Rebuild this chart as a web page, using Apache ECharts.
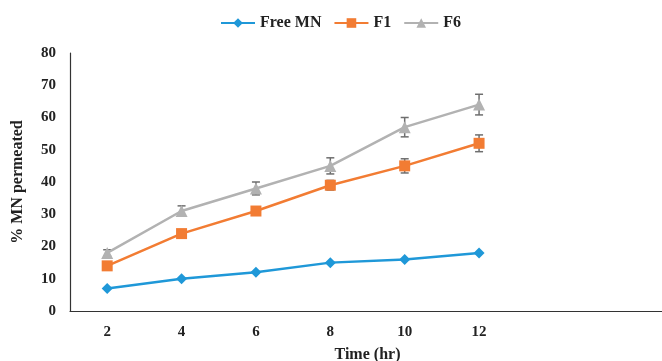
<!DOCTYPE html>
<html>
<head>
<meta charset="utf-8">
<script src="https://cdn.jsdelivr.net/npm/echarts@6/dist/echarts.min.js"></script>
<style>
  html, body { margin: 0; padding: 0; background: #fff; }
  #chart { width: 662px; height: 361px; }
</style>
</head>
<body>
<div id="chart"></div>
<script>
// time points (two empty slots keep the axis running to the right edge)
const times = ["2", "4", "6", "8", "10", "12", "", ""];
const freeMN = [7, 10, 12, 15, 16, 18];
const f1 = [14, 24, 31, 39, 45, 52];
const f6 = [18, 31, 38, 45, 57, 64];
// standard deviations
const f1Err = [0.6, 0.8, 1, 1.5, 2.2, 2.6];
const f6Err = [1, 1.6, 2, 2.5, 3, 3.2];

const font = "Liberation Serif";
const chart = echarts.init(document.getElementById("chart"));

// error bar series drawn through the axis coordinate system
function errorBars(values, errs) {
  return {
    type: "custom",
    silent: true,
    z: 1,
    data: values.map((v, i) => [i, v - errs[i], v + errs[i]]),
    renderItem(params, api) {
      const lo = api.coord([api.value(0), api.value(1)]);
      const hi = api.coord([api.value(0), api.value(2)]);
      const w = 4;
      const style = { stroke: "#6e6e6e", lineWidth: 1.5 };
      return {
        type: "group",
        children: [
          { type: "line", shape: { x1: hi[0], y1: hi[1], x2: lo[0], y2: lo[1] }, style },
          { type: "line", shape: { x1: hi[0] - w, y1: hi[1], x2: hi[0] + w, y2: hi[1] }, style },
          { type: "line", shape: { x1: lo[0] - w, y1: lo[1], x2: lo[0] + w, y2: lo[1] }, style }
        ]
      };
    }
  };
}

chart.setOption({
  animation: false,
  textStyle: { fontFamily: font },
  legend: {
    top: 10,
    left: 215,
    itemWidth: 34,
    itemHeight: 12,
    itemGap: 12,
    textStyle: { fontFamily: font, fontWeight: "bold", fontSize: 16, color: "#222" },
    data: ["Free MN", "F1", "F6"]
  },
  grid: { left: 70, top: 53, width: 595, height: 258, outerBoundsMode: "none", containLabel: false },
  xAxis: {
    type: "category",
    data: times,
    name: "Time (hr)",
    nameLocation: "middle",
    nameGap: 36,
    nameTextStyle: { fontFamily: font, fontWeight: "bold", fontSize: 16, color: "#222" },
    axisLine: { lineStyle: { color: "#333", width: 1.2 } },
    axisTick: { show: false },
    axisLabel: { fontFamily: font, fontWeight: "bold", fontSize: 15, color: "#222", margin: 14 }
  },
  yAxis: {
    type: "value",
    min: 0,
    max: 80,
    interval: 10,
    name: "% MN permeated",
    nameLocation: "middle",
    nameGap: 44,
    nameTextStyle: { fontFamily: font, fontWeight: "bold", fontSize: 16, color: "#222" },
    axisLine: { show: true, lineStyle: { color: "#333", width: 1.2 } },
    axisTick: { show: false },
    splitLine: { show: false },
    axisLabel: { fontFamily: font, fontWeight: "bold", fontSize: 15, color: "#222", margin: 14 }
  },
  series: [
    {
      name: "Free MN",
      type: "line",
      data: freeMN,
      symbol: "diamond",
      symbolSize: 11,
      z: 3,
      itemStyle: { color: "#1f98d8" },
      lineStyle: { color: "#1f98d8", width: 2.5 }
    },
    {
      name: "F1",
      type: "line",
      data: f1,
      symbol: "rect",
      symbolSize: 11,
      z: 3,
      itemStyle: { color: "#f27c33" },
      lineStyle: { color: "#f27c33", width: 2.5 }
    },
    {
      name: "F6",
      type: "line",
      data: f6,
      symbol: "triangle",
      symbolSize: 12,
      z: 3,
      itemStyle: { color: "#b2b2b2" },
      lineStyle: { color: "#b2b2b2", width: 2.5 }
    },
    errorBars(f1, f1Err),
    errorBars(f6, f6Err)
  ]
});
</script>
</body>
</html>
